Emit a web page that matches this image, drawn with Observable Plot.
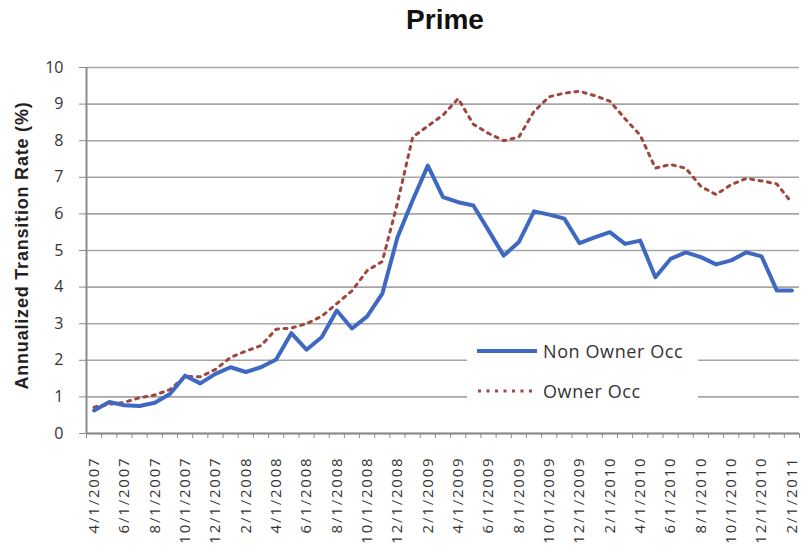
<!DOCTYPE html>
<html>
<head>
<meta charset="utf-8">
<script src="https://cdn.jsdelivr.net/npm/d3@7"></script>
<script src="https://cdn.jsdelivr.net/npm/@observablehq/plot@0.6"></script>
<style>
  body { margin: 0; background: #fff; }
  #wrap { position: relative; width: 807px; height: 554px; overflow: hidden; font-family: "Liberation Sans", Arial, sans-serif; }
  #title { height: 50px; padding-top: 6px; line-height: 28px; text-align: center; font-weight: bold; font-size: 28px; padding-left: 83px; box-sizing: border-box; color: #111; }
  #legend { position: absolute; left: 467px; top: 336px; width: 231px; height: 72px; background: #fff; font-family: "Open Sans", sans-serif; font-size: 18px; letter-spacing: 0.6px; color: #333; }
  .item { position: absolute; left: 10px; height: 24px; display: flex; align-items: center; white-space: nowrap; }
  .item svg { margin-right: 6px; }
  g[aria-label="x-axis tick label"] text { letter-spacing: 1.8px; }
  g[aria-label="text"] text { letter-spacing: 0.8px; }
</style>
</head>
<body>
<div id="wrap">
  <div id="title">Prime</div>
  <div id="chart"></div>
  <div id="legend">
    <div class="item" style="top:3px"><svg width="60" height="8"><line x1="0" x2="60" y1="4" y2="4" stroke="#3f68c0" stroke-width="4"/></svg><span>Non Owner Occ</span></div>
    <div class="item" style="top:43px"><svg width="60" height="8"><line x1="1" x2="60" y1="4" y2="4" stroke="#a0463e" stroke-width="3" stroke-dasharray="3,5.5"/></svg><span>Owner Occ</span></div>
  </div>
</div>
<script>
const dates = ["4/1/2007","5/1/2007","6/1/2007","7/1/2007","8/1/2007","9/1/2007","10/1/2007","11/1/2007","12/1/2007",
  "1/1/2008","2/1/2008","3/1/2008","4/1/2008","5/1/2008","6/1/2008","7/1/2008","8/1/2008","9/1/2008","10/1/2008","11/1/2008","12/1/2008",
  "1/1/2009","2/1/2009","3/1/2009","4/1/2009","5/1/2009","6/1/2009","7/1/2009","8/1/2009","9/1/2009","10/1/2009","11/1/2009","12/1/2009",
  "1/1/2010","2/1/2010","3/1/2010","4/1/2010","5/1/2010","6/1/2010","7/1/2010","8/1/2010","9/1/2010","10/1/2010","11/1/2010","12/1/2010",
  "1/1/2011","2/1/2011"];
const nonOwnerOcc = [0.63,0.86,0.77,0.75,0.84,1.08,1.58,1.37,1.63,1.81,1.68,1.81,2.02,2.74,2.29,2.63,3.36,2.87,3.2,3.82,
  5.36,6.37,7.32,6.46,6.32,6.23,5.55,4.86,5.23,6.07,5.98,5.87,5.2,5.36,5.5,5.18,5.27,4.27,4.77,4.95,4.82,4.62,4.73,4.95,4.84,3.91,3.91];
const ownerOcc = [0.72,0.8,0.85,0.98,1.05,1.2,1.56,1.55,1.75,2.08,2.25,2.4,2.85,2.88,3.0,3.2,3.55,3.9,4.45,4.7,
  6.3,8.1,8.4,8.7,9.15,8.45,8.2,8.0,8.1,8.8,9.2,9.3,9.35,9.23,9.08,8.6,8.15,7.25,7.35,7.25,6.75,6.53,6.8,6.97,6.9,6.82,6.3];
const yTicks = [0,1,2,3,4,5,6,7,8,9,10];
const yLabel = "Annualized Transition Rate (%)";

const idx = dates.map((d, i) => i);
const labelIdx = idx.filter(i => i % 2 === 0);
const boundaries = d3.range(-0.5, dates.length, 1);

const chart = Plot.plot({
  width: 807,
  height: 504,
  marginTop: 17,
  marginLeft: 86,
  marginRight: 8,
  marginBottom: 121,
  style: { fontFamily: "'Open Sans', sans-serif", background: "#fff", overflow: "visible" },
  x: { type: "linear", domain: [-0.5, dates.length - 0.5] },
  y: { domain: [0, 10] },
  marks: [
    Plot.ruleY(yTicks, { stroke: "#a6a6a6", strokeWidth: 1.6 }),
    Plot.ruleX([-0.5], { stroke: "#8c8c8c", strokeWidth: 2 }),
    Plot.ruleY([0], { stroke: "#8c8c8c", strokeWidth: 2 }),
    Plot.axisY(yTicks, { tickSize: 7, tickPadding: 16, fontSize: 16, stroke: "#8c8c8c", fill: "#333", label: null }),
    Plot.axisX(boundaries, { tickSize: 5, tickFormat: () => "", stroke: "#8c8c8c", label: null }),
    Plot.axisX(labelIdx, { tickSize: 0, tickPadding: 23, tickRotate: -90, fontSize: 15, fill: "#333", tickFormat: i => dates[i], label: null }),
    Plot.text([yLabel], { text: d => d, frameAnchor: "left", textAnchor: "middle", rotate: -90, dx: -64, dy: -5, fontWeight: "bold", fontSize: 18, fill: "#222", fontFamily: "'Liberation Sans', Arial, sans-serif" }),
    Plot.line(idx, { x: i => i, y: i => ownerOcc[i], stroke: "#a0463e", strokeWidth: 3, strokeDasharray: "3,5.5" }),
    Plot.line(idx, { x: i => i, y: i => nonOwnerOcc[i], stroke: "#3f68c0", strokeWidth: 4, strokeLinejoin: "round" })
  ]
});
document.getElementById("chart").appendChild(chart);
</script>
</body>
</html>
